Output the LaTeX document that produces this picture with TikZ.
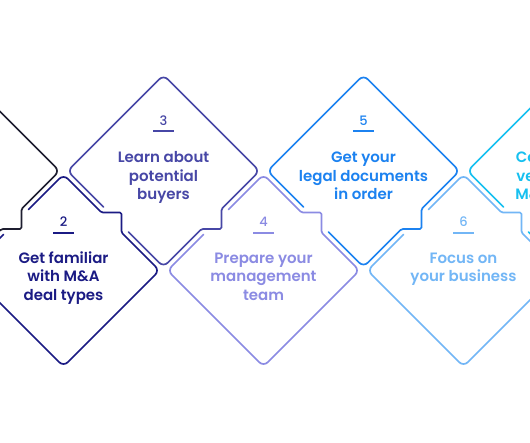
\documentclass[tikz,border=0pt]{standalone}
\usepackage{fontspec}
\setmainfont{Poppins}
\newfontfamily\headfont{Poppins SemiBold}
\newfontfamily\numfont{Poppins Medium}
\usetikzlibrary{calc}

\definecolor{tone1}{HTML}{1E1E30}
\definecolor{tone2}{HTML}{1B1B84}
\definecolor{tone3}{HTML}{4747A6}
\definecolor{tone4}{HTML}{8B8BE3}
\definecolor{tone5}{HTML}{1C82F0}
\definecolor{tone6}{HTML}{72B6F6}
\definecolor{tone7}{HTML}{16C0F0}

\tikzset{
	edge/.style={line width=1.7pt, rounded corners=6pt, line join=round, line cap=round},
	numlbl/.style={font=\numfont\fontsize{13}{13}\selectfont, anchor=base, inner xsep=0pt, inner ysep=6pt, minimum width=20pt},
	uline/.style={line width=1.6pt},
	% anchored on the baseline of the last line
	steptext/.style={font=\headfont\fontsize{15}{18.5}\selectfont, align=center, anchor=base, inner sep=0pt}
}

% upper row: open on the lower-left side, notch on the lower-right side
\def\highdiamond[#1](#2){\draw[edge,#1,shift={(#2)}] (-60,36) -- (-96,0) -- (0,-96) -- (96,0) [rounded corners=1.5pt] -- (58,38) -- (58,58) -- (38,58) [rounded corners=6pt] -- (0,96) -- (-35,61);}
% lower row: open on the upper-left side, notch on the upper-right side
\def\lowdiamond[#1](#2){\draw[edge,#1,shift={(#2)}] (-35,-61) -- (0,-96) [rounded corners=1.5pt] -- (38,-58) -- (58,-58) -- (58,-38) [rounded corners=6pt] -- (96,0) -- (0,96) -- (-96,0) -- (-60,-36);}

\begin{document}
\begin{tikzpicture}[x=1pt,y=-1pt]
	%%%%% START %%%%%
	\clip (0,0) rectangle (530,442);
	\fill[white] (0,0) rectangle (530,442);
	
	\highdiamond[tone1](-36.5,171)
	
	\lowdiamond[tone2](63.5,270.5)
	\node[numlbl, text=tone2] (num2) at (63.5,226.5) {2};
	\draw[uline, tone2] (num2.south west) -- (num2.south east);
	\node[steptext, text=tone2] (txt2) at (63.5,300) {Get familiar\\with M\&A\\deal types};
	
	\highdiamond[tone3](163.5,171)
	\node[numlbl, text=tone3] (num3) at (163.5,125) {3};
	\draw[uline, tone3] (num3.south west) -- (num3.south east);
	\node[steptext, text=tone3] (txt3) at (163.5,199.5) {Learn about\\potential\\buyers};
	
	\lowdiamond[tone4](263.5,270.5)
	\node[numlbl, text=tone4] (num4) at (263.5,226.5) {4};
	\draw[uline, tone4] (num4.south west) -- (num4.south east);
	\node[steptext, text=tone4] (txt4) at (263.5,300) {Prepare your\\management\\team};
	
	\highdiamond[tone5](363.5,171)
	\node[numlbl, text=tone5] (num5) at (363.5,125) {5};
	\draw[uline, tone5] (num5.south west) -- (num5.south east);
	\node[steptext, text=tone5] (txt5) at (363.5,199.5) {Get your\\legal documents\\in order};
	
	\lowdiamond[tone6](463.5,270.5)
	\node[numlbl, text=tone6] (num6) at (463.5,226.5) {6};
	\draw[uline, tone6] (num6.south west) -- (num6.south east);
	\node[steptext, text=tone6] (txt6) at (463.5,281.5) {Focus on\\your business};
	
	\highdiamond[tone7](563.5,171)
	\node[steptext, text=tone7] (txt7) at (563.5,199.5) {Consult with\\very reliable\\M\&A experts};
	%%%%% END %%%%%
\end{tikzpicture}
\end{document}
